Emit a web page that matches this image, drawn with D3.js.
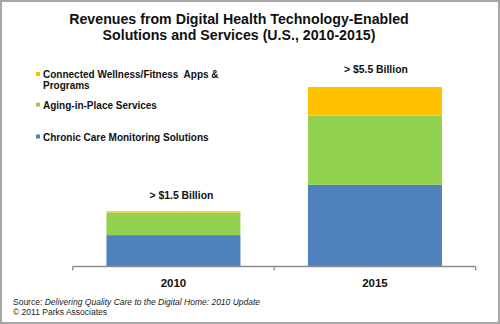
<!DOCTYPE html>
<html>
<head>
<meta charset="utf-8">
<script src="https://cdn.jsdelivr.net/npm/d3@7.9.0/dist/d3.min.js"></script>
<style>
  body { margin: 0; background: #fff; }
  svg { display: block; font-family: "Liberation Sans", Arial, sans-serif; }
</style>
</head>
<body>
<svg id="chart" width="500" height="324"></svg>
<script>
const years = ['2010', '2015'];
const seriesNames = ['Chronic Care Monitoring Solutions', 'Aging-in-Place Services', 'Connected Wellness/Fitness  Apps & Programs'];
const chronicCare = [0.96, 2.50];
const agingInPlace = [0.69, 2.12];
const wellnessApps = [0.04, 0.87];
const totalLabels = ['> $1.5 Billion', '> $5.5 Billion'];
const seriesColors = ['#4f81bd', '#92d050', '#ffc000'];

let svg = d3.select('#chart');

// frame
svg.append('rect')
   .attr('x', 1).attr('y', 1)
   .attr('width', 498).attr('height', 322)
   .attr('fill', '#fff')
   .attr('stroke', '#a6a6a6')
   .attr('stroke-width', 2);

// title
let title = svg.append('text')
   .attr('text-anchor', 'middle')
   .attr('font-size', 14.2)
   .attr('font-weight', 'bold')
   .attr('fill', '#111');
title.append('tspan').attr('x', 239).attr('y', 24).text('Revenues from Digital Health Technology-Enabled');
title.append('tspan').attr('x', 239).attr('y', 39.5).text('Solutions and Services (U.S., 2010-2015)');

let x = d3.scaleBand()
    .domain(years)
    .range([72.7, 475.7])
    .paddingInner(0.335)
    .paddingOuter(0.1675);

let y = d3.scaleLinear()
    .domain([0, 6])
    .range([266.5, 70.4]);

let rows = years.map((yr, i) => ({
    year: yr,
    chronic: chronicCare[i],
    aging: agingInPlace[i],
    wellness: wellnessApps[i]
}));

let stack = d3.stack().keys(['chronic', 'aging', 'wellness']);
let layers = stack(rows);

layers.forEach((layer, li) => {
    svg.append('g')
       .selectAll('rect')
       .data(layer)
       .join('rect')
       .attr('x', d => x(d.data.year))
       .attr('width', x.bandwidth())
       .attr('y', d => y(d[1]))
       .attr('height', d => y(d[0]) - y(d[1]))
       .attr('fill', seriesColors[li]);
});

// axis line with boundary ticks
let step = x.step();
let edges = years.map(yr => x(yr) - step * x.paddingInner() / 2);
edges.push(x.range()[1]);
let axisG = svg.append('g').attr('stroke', '#8c8c8c').attr('stroke-width', 1.3);
axisG.append('line')
     .attr('x1', x.range()[0]).attr('x2', x.range()[1])
     .attr('y1', y(0)).attr('y2', y(0));
axisG.selectAll('.tick')
     .data(edges)
     .join('line')
     .attr('x1', d => d).attr('x2', d => d)
     .attr('y1', y(0)).attr('y2', y(0) + 4);

svg.append('g')
   .selectAll('text')
   .data(years)
   .join('text')
   .attr('x', d => x(d) + x.bandwidth() / 2)
   .attr('y', 286.5)
   .attr('text-anchor', 'middle')
   .attr('font-size', 11.5)
   .attr('font-weight', 'bold')
   .attr('fill', '#111')
   .text(d => d);

// total labels above bars
let totals = years.map((yr, i) => chronicCare[i] + agingInPlace[i] + wellnessApps[i]);
let labelShift = [8, 1];
svg.append('g')
   .selectAll('text')
   .data(years)
   .join('text')
   .attr('x', (d, i) => x(d) + x.bandwidth() / 2 + labelShift[i])
   .attr('y', (d, i) => y(totals[i]) - (i === 0 ? 12.5 : 14.5))
   .attr('text-anchor', 'middle')
   .attr('font-size', 10.4)
   .attr('font-weight', 'bold')
   .attr('fill', '#111')
   .text((d, i) => totalLabels[i]);

// legend (top to bottom: wellness, aging, chronic)
let legendItems = [
    { idx: 2, lines: ['Connected Wellness/Fitness  Apps &', 'Programs'], y: 78 },
    { idx: 1, lines: ['Aging-in-Place Services'], y: 108.7 },
    { idx: 0, lines: ['Chronic Care Monitoring Solutions'], y: 140.5 }
];
let legend = svg.append('g');
legendItems.forEach(item => {
    legend.append('rect')
          .attr('x', 36).attr('y', item.y - 6)
          .attr('width', 4).attr('height', 4)
          .attr('fill', seriesColors[item.idx]);
    let t = legend.append('text')
          .attr('font-size', 10)
          .attr('font-weight', 'bold')
          .attr('fill', '#111');
    item.lines.forEach((ln, k) => {
        t.append('tspan')
         .attr('x', 43)
         .attr('y', item.y + k * 10.5)
         .style('white-space', 'pre')
         .text(ln);
    });
});

// source note
let src = svg.append('text')
   .attr('x', 13).attr('y', 304.5)
   .attr('font-size', 8.5)
   .attr('fill', '#222');
src.append('tspan').text('Source: ');
src.append('tspan').attr('font-style', 'italic').text('Delivering Quality Care to the Digital Home: 2010 Update');
svg.append('text')
   .attr('x', 13).attr('y', 314.5)
   .attr('font-size', 8.5)
   .attr('fill', '#222')
   .text('\u00a9 2011 Parks Associates');
</script>
</body>
</html>
